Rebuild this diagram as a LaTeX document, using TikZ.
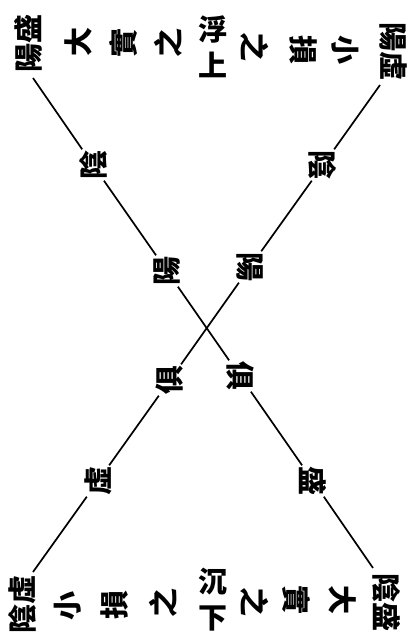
\documentclass[tikz,border=0pt]{standalone}
\usepackage{fontspec}
\newfontfamily\cjk{Noto Sans CJK TC}
\usetikzlibrary{positioning}
\tikzset{
  zi/.style={font=\cjk\bfseries\fontsize{29}{36}\selectfont, inner sep=1pt},
  zil/.style={zi, rotate=90},
  zir/.style={zi, rotate=-90},
  xian/.style={line width=1.7pt, draw=black},
}

\begin{document}
\begin{tikzpicture}[x=1pt, y=-1pt]
  \useasboundingbox (0,0) rectangle (415,636);
  % corners
  \node[zil] (ysheng) at (28,44) {陽盛};
  \node[zir] (yxu) at (393,52) {陽虛};
  \node[zil] (yinxu) at (22,604) {陰虛};
  \node[zir] (yinsheng) at (387,602) {陰盛};
  % top row
  \node[zil] (t1) at (78,42) {大};
  \node[zil] (t2) at (123,43) {實};
  \node[zil] (t3) at (168,43) {之};
  \node[zi, align=center] (fu) at (213,47) {浮\\上};
  \node[zir] (t4) at (255,47) {之};
  \node[zir] (t5) at (303,50) {損};
  \node[zir] (t6) at (345,50) {小};
  % bottom row
  \node[zil] (d1) at (68,606) {小};
  \node[zil] (d2) at (115,605) {損};
  \node[zil] (d3) at (163,603) {之};
  \node[zi, align=center] (chen) at (213,600) {沉\\下};
  \node[zir] (d4) at (255,602) {之};
  \node[zir] (d5) at (297,600) {實};
  \node[zir] (d6) at (343,600) {大};
  % ends of the two lines
  \coordinate (sa) at (33,78);
  \coordinate (ea) at (373,568);
  \coordinate (sb) at (380,85);
  \coordinate (eb) at (33,572);
  % labels on the lines
  \node[zil] (a1) at (93,165) {陰};
  \node[zil] (a2) at (167,271) {陽};
  \node[zir] (a3) at (240,376) {俱};
  \node[zir] (a4) at (313,481) {盛};
  \node[zir] (b1) at (323,165) {陰};
  \node[zir] (b2) at (250,267) {陽};
  \node[zil] (b3) at (170,380) {俱};
  \node[zil] (b4) at (98,481) {虛};
  \draw[xian] (sa) -- (a1) -- (a2) -- (a3) -- (a4) -- (ea);
  \draw[xian] (sb) -- (b1) -- (b2) -- (b3) -- (b4) -- (eb);
\end{tikzpicture}
\end{document}
